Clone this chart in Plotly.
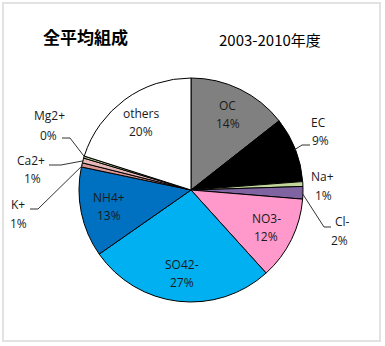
import math
import plotly.graph_objects as go

# ---- data ----
labels = ["OC", "EC", "Na+", "Cl-", "NO3-", "SO42-", "NH4+", "K+", "Ca2+", "Mg2+", "others"]
values = [14.4, 9.4, 0.7, 1.8, 12.0, 27.0, 13.0, 0.6, 0.7, 0.3, 20.1]
pct_text = ["14%", "9%", "1%", "2%", "12%", "27%", "13%", "1%", "1%", "0%", "20%"]
colors = ["#808080", "#000000", "#c3d69b", "#8064a2", "#ff99cc", "#00b0f0",
          "#0070c0", "#d99694", "#e6b9b8", "#c3d69b", "#ffffff"]
title_main = "全平均組成"
title_sub = "2003-2010年度"

W, H = 385, 346
CX, CY, R = 191, 190, 112

# outside label placement (pixel centers of line 1 and line 2)
outside_pos = {"EC": ((318, 122), (320, 140)), "Na+": ((322, 176), (323, 195)),
               "Cl-": ((342, 222), (339, 240)), "K+": ((18, 205), (18, 223)),
               "Ca2+": ((31, 160), (32, 178)), "Mg2+": ((50, 116), (49, 135))}
# leader lines: elbow point, end point (pixels)
leaders = {"EC": ((302, 145), (310, 145)), "Cl-": ((324, 227), (331, 227)),
           "K+": ((38, 209), (30, 209)), "Ca2+": ((61, 165), (49, 165)),
           "Mg2+": ((70, 138), (62, 138))}

def px2paper(x, y):
    return x / W, 1 - y / H

fig = go.Figure(go.Pie(
    labels=labels, values=values, sort=False, direction="clockwise", rotation=0,
    marker=dict(colors=colors, line=dict(color="#000000", width=1)),
    textinfo="none", hoverinfo="label+percent", showlegend=False,
    domain=dict(x=[(CX - R) / W, (CX + R) / W], y=[1 - (CY + R) / H, 1 - (CY - R) / H]),
))

annotations = []
shapes = []
font = dict(family="Open Sans, Liberation Sans, sans-serif", size=12, color="#1a1a1a")

def add_text(txt, px, py, f=font):
    x, y = px2paper(px, py)
    annotations.append(dict(x=x, y=y, xref="paper", yref="paper", text=txt,
                            showarrow=False, font=f, xanchor="center", yanchor="middle"))

total = sum(values)
cum = 0
for lab, v, t in zip(labels, values, pct_text):
    mid = (cum + v / 2) / total * 2 * math.pi
    cum += v
    if lab in outside_pos:
        (x1, y1), (x2, y2) = outside_pos[lab]
        add_text(lab, x1, y1)
        add_text(t, x2, y2)
        if lab in leaders:
            ex = CX + (R - 1) * math.sin(mid)
            ey = CY - (R - 1) * math.cos(mid)
            (bx, by), (dx, dy) = leaders[lab]
            pts = [px2paper(ex, ey), px2paper(bx, by), px2paper(dx, dy)]
            path = "M {} {} L {} {} L {} {}".format(*[c for p in pts for c in p])
            shapes.append(dict(type="path", xref="paper", yref="paper", path=path,
                               line=dict(color="#333333", width=1)))
    else:
        rr = 0.75 * R
        lx = CX + rr * math.sin(mid)
        ly = CY - rr * math.cos(mid)
        add_text(lab, lx, ly - 9)
        add_text(t, lx, ly + 9)

add_text(f"<b>{title_main}</b>", 85, 37,
         dict(family="Noto Sans CJK JP", size=17, color="#000000"))
add_text(title_sub, 270, 40, dict(family="Noto Sans CJK JP", size=15, color="#000000"))

bx0, by1 = px2paper(3, 3)
bx1, by0 = px2paper(380, 341)
shapes.append(dict(type="rect", xref="paper", yref="paper", x0=bx0, x1=bx1, y0=by0, y1=by1,
                   line=dict(color="#e2e2e2", width=2), fillcolor="rgba(0,0,0,0)", layer="below"))

fig.update_layout(
    width=W, height=H, margin=dict(l=0, r=0, t=0, b=0),
    paper_bgcolor="#ffffff", plot_bgcolor="#ffffff",
    annotations=annotations, shapes=shapes,
)
fig.write_html("out.html")
